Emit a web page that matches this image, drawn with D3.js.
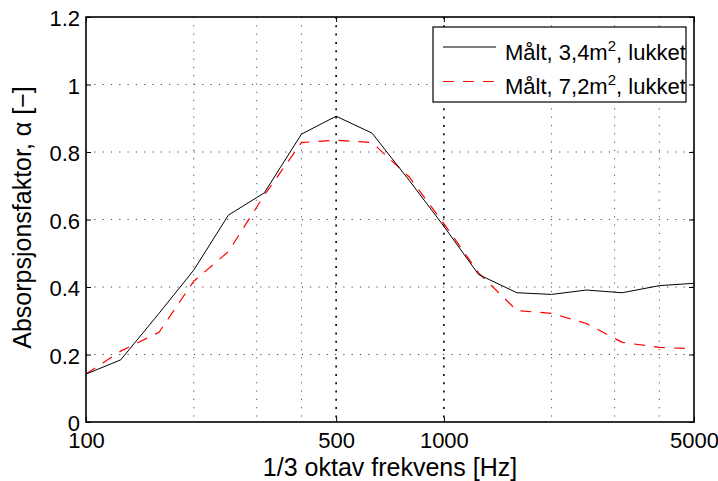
<!DOCTYPE html>
<html>
<head>
<meta charset="utf-8">
<script src="https://cdn.jsdelivr.net/npm/d3@7"></script>
<style>
  body { margin: 0; background: #fff; }
  svg { font-family: "Liberation Sans", Arial, sans-serif; }
</style>
</head>
<body>
<svg id="chart"></svg>
<script>
// 1/3 octave band centre frequencies [Hz]
const freqs = [100, 125, 160, 200, 250, 315, 400, 500, 630, 800, 1000, 1250, 1600, 2000, 2500, 3150, 4000, 5000];
// measured absorption, 3.4 m2 sample (solid black)
const alpha34 = [0.142, 0.184, 0.322, 0.450, 0.613, 0.679, 0.853, 0.906, 0.856, 0.716, 0.580, 0.437, 0.383, 0.378, 0.391, 0.383, 0.404, 0.411];
// measured absorption, 7.2 m2 sample (dashed red)
const alpha72 = [0.142, 0.210, 0.266, 0.417, 0.505, 0.672, 0.828, 0.835, 0.828, 0.726, 0.588, 0.442, 0.330, 0.322, 0.292, 0.236, 0.221, 0.217];

const xTicks = [100, 500, 1000, 5000];
const xMinorGrid = [200, 300, 400, 2000, 3000, 4000];
const yTicks = [0, 0.2, 0.4, 0.6, 0.8, 1, 1.2];
const seriesNames = ["Målt, 3,4m", "Målt, 7,2m"];

const config = {
  width: 718,
  height: 481,
  margin: { top: 17, right: 24, bottom: 59, left: 86 }
};

const svg = d3.select("#chart")
    .attr("width", config.width)
    .attr("height", config.height);

const width = config.width - config.margin.left - config.margin.right;
const height = config.height - config.margin.top - config.margin.bottom;

const chart = svg.append("g")
    .attr("transform", `translate(${config.margin.left},${config.margin.top})`);

// scales
const xScale = d3.scaleLog()
    .domain([100, 5000])
    .range([0, width]);

const yScale = d3.scaleLinear()
    .domain([0, 1.2])
    .range([height, 0]);

// grid lines
chart.selectAll(".hgrid")
    .data(yTicks.slice(1, -1))
  .join("line")
    .attr("class", "hgrid")
    .attr("x1", 0)
    .attr("x2", width)
    .attr("y1", d => yScale(d))
    .attr("y2", d => yScale(d))
    .attr("stroke", "#444")
    .attr("stroke-width", 1)
    .attr("stroke-dasharray", "1.2,7.1");

chart.selectAll(".vgrid-minor")
    .data(xMinorGrid)
  .join("line")
    .attr("class", "vgrid-minor")
    .attr("x1", d => xScale(d))
    .attr("x2", d => xScale(d))
    .attr("y1", 0)
    .attr("y2", height)
    .attr("stroke", "#555")
    .attr("stroke-width", 1)
    .attr("stroke-dasharray", "1.2,7.1");

chart.selectAll(".vgrid-major")
    .data(xTicks.slice(1, -1))
  .join("line")
    .attr("class", "vgrid-major")
    .attr("x1", d => xScale(d))
    .attr("x2", d => xScale(d))
    .attr("y1", 0)
    .attr("y2", height)
    .attr("stroke", "#000")
    .attr("stroke-width", 1.6)
    .attr("stroke-dasharray", "2,6.3");

// axes (ticks pointing inwards, MATLAB style)
const xAxis = d3.axisBottom(xScale)
    .tickValues(xTicks)
    .tickFormat(d3.format("d"))
    .tickSizeInner(-5)
    .tickSizeOuter(0)
    .tickPadding(10.5);

const yAxis = d3.axisLeft(yScale)
    .tickValues(yTicks)
    .tickFormat(d => d === 0 || d === 1 ? d : d3.format(".1f")(d))
    .tickSizeInner(-5)
    .tickSizeOuter(0)
    .tickPadding(6);

const xAxisG = chart.append("g")
    .attr("transform", `translate(0,${height})`)
    .call(xAxis);

const yAxisG = chart.append("g")
    .call(yAxis);

chart.append("g")
    .call(d3.axisTop(xScale).tickValues(xTicks).tickFormat("").tickSizeInner(-5).tickSizeOuter(0));

chart.append("g")
    .attr("transform", `translate(${width},0)`)
    .call(d3.axisRight(yScale).tickValues(yTicks).tickFormat("").tickSizeInner(-5).tickSizeOuter(0));

chart.selectAll(".domain").remove();
chart.selectAll(".tick line").attr("stroke", "#000");
chart.selectAll(".tick text")
    .attr("fill", "#000")
    .style("font-size", "22px")
    .style("font-family", "'Liberation Sans', Arial, sans-serif");
yAxisG.selectAll(".tick text").attr("dy", "0.4em");

// data lines
const line = (vals) => d3.line()
    .x((d, i) => xScale(freqs[i]))
    .y(d => yScale(d))(vals);

chart.append("path")
    .attr("d", line(alpha72))
    .attr("fill", "none")
    .attr("stroke", "#ff0000")
    .attr("stroke-width", 1.2)
    .attr("stroke-dasharray", "11,9");

chart.append("path")
    .attr("d", line(alpha34))
    .attr("fill", "none")
    .attr("stroke", "#000")
    .attr("stroke-width", 1);

// frame
chart.append("rect")
    .attr("x", 0)
    .attr("y", 0)
    .attr("width", width)
    .attr("height", height)
    .attr("fill", "none")
    .attr("stroke", "#000")
    .attr("stroke-width", 1.6);

// axis labels
svg.append("text")
    .attr("x", config.margin.left + width / 2)
    .attr("y", 476)
    .attr("text-anchor", "middle")
    .style("font-size", "25px")
    .text("1/3 oktav frekvens [Hz]");

svg.append("text")
    .attr("transform", `translate(31,${config.margin.top + height / 2 - 2}) rotate(-90)`)
    .attr("text-anchor", "middle")
    .style("font-size", "25px")
    .text("Absorpsjonsfaktor, α [−]");

// legend
const legend = svg.append("g")
    .attr("transform", "translate(433,27)");

legend.append("rect")
    .attr("width", 253)
    .attr("height", 75)
    .attr("fill", "#fff")
    .attr("stroke", "#000")
    .attr("stroke-width", 1.2);

const styles = [
  { stroke: "#000", dash: null, w: 1 },
  { stroke: "#ff0000", dash: "11,9", w: 1.2 }
];

seriesNames.forEach((name, i) => {
  const yy = 20 + i * 34.5;
  legend.append("line")
      .attr("x1", 10)
      .attr("x2", 63)
      .attr("y1", yy)
      .attr("y2", yy)
      .attr("stroke", styles[i].stroke)
      .attr("stroke-width", styles[i].w)
      .attr("stroke-dasharray", styles[i].dash);
  const t = legend.append("text")
      .attr("x", 72)
      .attr("y", yy + 12.5)
      .style("font-size", "22px");
  t.append("tspan").text(name);
  t.append("tspan").attr("dy", -9).style("font-size", "15px").text("2");
  t.append("tspan").attr("dy", 9).text(", lukket");
});
</script>
</body>
</html>
